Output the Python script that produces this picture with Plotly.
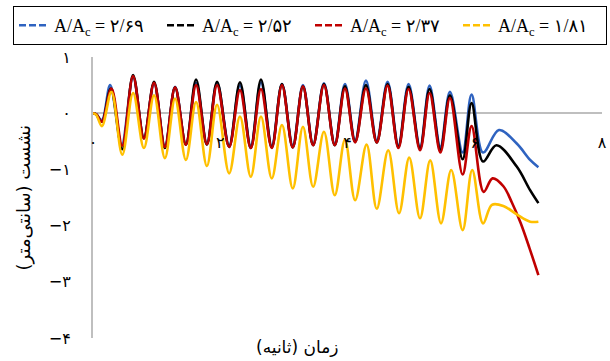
import plotly.graph_objects as go

# ---------------- data ----------------
t_blue = [0, 0.05, 0.14, 0.27, 0.45, 0.63, 0.80, 0.96, 1.13, 1.29, 1.46, 1.62, 1.79, 1.95, 2.14, 2.31, 2.48,
          2.64, 2.81, 2.97, 3.14, 3.30, 3.46, 3.63, 3.80, 3.96, 4.12, 4.29, 4.46, 4.63, 4.80, 4.96, 5.14,
          5.29, 5.46, 5.61, 5.81, 5.95, 6.13, 6.38, 6.66, 6.87, 7.0]
y_blue = [0, -0.02, -0.12, 0.50, -0.57, 0.64, -0.43, 0.53, -0.58, 0.47, -0.55, 0.54, -0.53, 0.54, -0.57, 0.50, -0.58,
          0.55, -0.58, 0.52, -0.57, 0.50, -0.55, 0.53, -0.55, 0.52, -0.48, 0.58, -0.48, 0.56, -0.57, 0.52, -0.60,
          0.49, -0.60, 0.38, -0.70, 0.33, -0.70, -0.30, -0.54, -0.83, -0.96]

t_black = [0, 0.05, 0.14, 0.28, 0.46, 0.63, 0.80, 0.96, 1.13, 1.29, 1.46, 1.62, 1.79, 1.95, 2.14, 2.31, 2.48,
           2.64, 2.81, 2.97, 3.14, 3.30, 3.46, 3.63, 3.80, 3.96, 4.12, 4.29, 4.46, 4.63, 4.80, 4.96, 5.14,
           5.29, 5.46, 5.61, 5.81, 5.95, 6.13, 6.34, 6.66, 6.87, 7.0]
y_black = [0, -0.02, -0.15, 0.44, -0.64, 0.68, -0.45, 0.56, -0.62, 0.46, -0.56, 0.60, -0.56, 0.56, -0.60, 0.55, -0.62,
           0.60, -0.61, 0.52, -0.61, 0.48, -0.57, 0.52, -0.57, 0.48, -0.51, 0.50, -0.52, 0.52, -0.60, 0.47, -0.63,
           0.43, -0.65, 0.32, -0.82, 0.18, -0.86, -0.57, -0.95, -1.37, -1.60]

t_red = [0, 0.05, 0.14, 0.29, 0.46, 0.63, 0.80, 0.96, 1.13, 1.29, 1.46, 1.62, 1.79, 1.95, 2.14, 2.31, 2.48,
         2.64, 2.81, 2.97, 3.14, 3.30, 3.46, 3.63, 3.80, 3.96, 4.12, 4.29, 4.46, 4.63, 4.80, 4.96, 5.14,
         5.29, 5.46, 5.61, 5.81, 5.95, 6.14, 6.28, 6.45, 6.58, 6.72, 6.86, 7.0]
y_red = [0, -0.02, -0.15, 0.44, -0.58, 0.66, -0.45, 0.54, -0.60, 0.46, -0.56, 0.50, -0.55, 0.50, -0.60, 0.41, -0.62,
         0.43, -0.62, 0.50, -0.61, 0.48, -0.57, 0.50, -0.57, 0.44, -0.52, 0.44, -0.52, 0.49, -0.62, 0.43, -0.66,
         0.36, -0.70, 0.27, -1.09, -0.23, -1.40, -1.16, -1.30, -1.58, -1.95, -2.40, -2.88]

t_yellow = [0, 0.05, 0.14, 0.29, 0.46, 0.63, 0.80, 0.96, 1.13, 1.29, 1.46, 1.62, 1.79, 1.95, 2.14, 2.31, 2.48,
            2.64, 2.81, 2.97, 3.14, 3.30, 3.46, 3.63, 3.80, 3.96, 4.12, 4.30, 4.46, 4.64, 4.81, 4.97, 5.14,
            5.30, 5.47, 5.63, 5.81, 5.96, 6.13, 6.27, 6.45, 6.66, 6.87, 7.0]
y_yellow = [0, -0.03, -0.23, 0.38, -0.74, 0.36, -0.62, 0.32, -0.80, 0.26, -0.83, 0.20, -0.94, 0.15, -1.07, -0.06, -1.13,
            -0.06, -1.16, -0.21, -1.34, -0.24, -1.31, -0.33, -1.46, -0.47, -1.55, -0.56, -1.70, -0.66, -1.78, -0.79, -1.87,
            -0.84, -1.96, -1.01, -2.08, -1.01, -1.96, -1.63, -1.65, -1.80, -1.93, -1.93]

series_names = ["A/A<sub>c</sub> = ۲/۶۹", "A/A<sub>c</sub> = ۲/۵۲",
                "A/A<sub>c</sub> = ۲/۳۷", "A/A<sub>c</sub> = ۱/۸۱"]
series_colors = ["#2F63C0", "#000000", "#C00000", "#FFC000"]

x_tick_vals = [0, 2, 4, 6, 8]
x_tick_text = ["۰", "۲", "۴", "۶", "۸"]
y_tick_vals = [-4, -3, -2, -1, 0, 1]
y_tick_text = ["−۴", "−۳", "−۲", "−۱", "۰", "۱"]

x_title = "\u200fزمان (ثانیه)\u200f"
y_title = "\u200fنشست (سانتی\u200cمتر)\u200f"

# ---------------- figure ----------------
fig = go.Figure()
all_t = [t_blue, t_black, t_red, t_yellow]
all_y = [y_blue, y_black, y_red, y_yellow]
for t, y, c in zip(all_t, all_y, series_colors):
    fig.add_trace(go.Scatter(x=t, y=y, mode="lines",
                             line=dict(color=c, width=2.6, shape="spline", smoothing=1.0),
                             showlegend=False, hoverinfo="skip"))
for name, c in zip(series_names, series_colors):
    fig.add_trace(go.Scatter(x=[None], y=[None], mode="lines", name=name,
                             line=dict(color=c, width=2.5, dash="7px,3px")))

L, R, T, B = 93, 8, 57, 23
W, H = 610, 361
pw, ph = W - L - R, H - T - B

def px_x(p):
    return (p - L) / pw

def px_y(p):
    return (H - B - p) / ph

fig.update_layout(
    width=W, height=H,
    margin=dict(l=L, r=R, t=T, b=B, pad=0, autoexpand=False),
    paper_bgcolor="white", plot_bgcolor="white",
    showlegend=True,
    legend=dict(orientation="h", x=px_x(13), y=px_y(6), xanchor="left", yanchor="top",
                bordercolor="black", borderwidth=1, bgcolor="white",
                font=dict(family="Liberation Serif, DejaVu Sans", size=18, color="black"),
                itemwidth=30, tracegroupgap=0, entrywidth=103, entrywidthmode="pixels"),
    xaxis=dict(range=[0, 8], tickvals=x_tick_vals, ticktext=x_tick_text,
               showgrid=False, zeroline=False, showline=False, ticks="",
               anchor="free", position=px_y(131),
               tickfont=dict(family="DejaVu Sans", size=16, color="black")),
    yaxis=dict(range=[-4, 1], tickvals=y_tick_vals, ticktext=y_tick_text,
               showgrid=False, zeroline=True, zerolinecolor="#BFBFBF", zerolinewidth=2,
               showline=True, linecolor="#BFBFBF", linewidth=2, ticks="",
               ticklabelstandoff=17,
               tickfont=dict(family="DejaVu Sans", size=16, color="black")),
    annotations=[
        dict(text=x_title, xref="paper", yref="paper", x=px_x(297), y=px_y(347),
             xanchor="center", yanchor="middle", showarrow=False,
             font=dict(family="DejaVu Sans", size=17, color="black")),
        dict(text=y_title, xref="paper", yref="paper", x=px_x(23), y=0.5, textangle=-90,
             xanchor="center", yanchor="middle", showarrow=False,
             font=dict(family="DejaVu Sans", size=18, color="black")),
    ],
)

fig.write_html("out.html")
